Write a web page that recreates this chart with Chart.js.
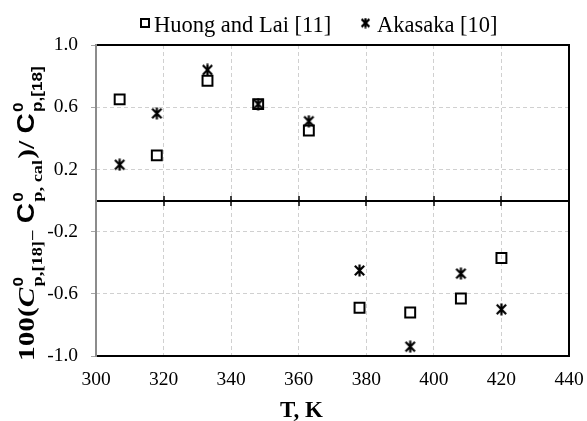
<!DOCTYPE html>
<html><head><meta charset="utf-8">
<script src="https://cdn.jsdelivr.net/npm/chart.js@4"></script>
<style>html,body{margin:0;padding:0;background:#fff;overflow:hidden}</style>
</head><body>
<canvas id="c" width="587" height="421"></canvas>
<script>
// ---- data ----
const temperatures = [307, 318, 333, 348, 363, 378, 393, 408, 420];
const huongLai = [0.65, 0.29, 0.77, 0.62, 0.45, -0.69, -0.72, -0.63, -0.37];
const akasaka = [0.23, 0.56, 0.84, 0.62, 0.51, -0.45, -0.94, -0.47, -0.70];
const seriesNames = ['Huong and Lai [11]', 'Akasaka [10]'];
const xTickValues = [300, 320, 340, 360, 380, 400, 420, 440];
const yTickValues = [-1.0, -0.6, -0.2, 0.2, 0.6, 1.0];
const xTitle = 'T, K';

const SERIF = '"Liberation Serif", "Times New Roman", serif';
const SANS = '"Liberation Sans", Arial, sans-serif';

function makeStar(size, lw) {
  const c = document.createElement('canvas');
  c.width = size; c.height = size;
  const g = c.getContext('2d');
  g.strokeStyle = '#000'; g.lineWidth = lw; g.lineCap = 'butt';
  const m = size / 2, r = size / 2 - 0.5;
  const d = r * 0.78;
  g.beginPath();
  g.moveTo(m - d, m - d); g.lineTo(m + d, m + d);
  g.moveTo(m + d, m - d); g.lineTo(m - d, m + d);
  g.moveTo(m, m - r); g.lineTo(m, m + r);
  g.stroke();
  return c;
}
const starImg = makeStar(13, 2.2);
const starLegend = makeStar(11, 2.2);

const toPts = (ys) => ys.map((y, i) => ({x: temperatures[i], y}));

const framePlugin = {
  id: 'frame',
  beforeDatasetsDraw(chart) {
    const {ctx, chartArea: a, scales: {x, y}} = chart;
    ctx.save();
    const y0 = Math.round(y.getPixelForValue(0));
    ctx.strokeStyle = '#000'; ctx.lineWidth = 2;
    ctx.beginPath(); ctx.moveTo(a.left, y0); ctx.lineTo(a.right, y0); ctx.stroke();
    ctx.lineWidth = 1.5;
    xTickValues.forEach(v => {
      const px = Math.round(x.getPixelForValue(v));
      ctx.beginPath(); ctx.moveTo(px, y0 - 5); ctx.lineTo(px, y0 + 5); ctx.stroke();
    });
    ctx.lineWidth = 2; ctx.strokeStyle = '#000';
    ctx.beginPath();
    ctx.moveTo(a.left, a.top); ctx.lineTo(a.right, a.top); ctx.lineTo(a.right, a.bottom); ctx.lineTo(a.left, a.bottom);
    ctx.stroke();
    ctx.strokeStyle = '#8c8c8c';
    ctx.beginPath(); ctx.moveTo(a.left, a.top - 1); ctx.lineTo(a.left, a.bottom + 1); ctx.stroke();
    ctx.restore();
  },
  afterDraw(chart) {
    const {ctx} = chart;
    ctx.save();
    // legend
    ctx.fillStyle = '#000';
    ctx.font = '22.5px ' + SERIF;
    ctx.textBaseline = 'alphabetic';
    ctx.textAlign = 'left';
    ctx.strokeStyle = '#000'; ctx.lineWidth = 2;
    ctx.strokeRect(141, 19, 8, 8);
    ctx.fillText(seriesNames[0], 154, 31.5);
    ctx.drawImage(starLegend, 360, 17.5);
    ctx.fillText(seriesNames[1], 377, 31.5);
    // x title
    ctx.font = 'bold 23px ' + SERIF;
    ctx.textAlign = 'center';
    ctx.fillText(xTitle, 301.5, 416.5);
    // y title (rotated, with super/subscripts)
    const mainF = 'bold 24px ' + SERIF;
    const italF = 'italic bold 24px ' + SERIF;
    const sansC = 'bold 23px ' + SANS;
    const supF = 'bold 14px ' + SANS;
    const subSerif = 'bold 15px ' + SERIF;
    const subSans = 'bold 14px ' + SANS;
    const segs = [
      {t: '100(', f: mainF},
      {t: 'C', f: italF},
      {sup: '0', sub: 'p,[18]', subF: subSerif},
      {t: '\u2013', f: subSerif, dy: 2},
      {t: ' ', f: mainF},
      {t: 'C', f: sansC},
      {sup: '0', sub: 'p, cal', subF: subSerif},
      {t: ')/ ', f: mainF},
      {t: 'C', f: sansC},
      {sup: '0', sub: 'p,[18]', subF: subSans}
    ];
    const widthOf = (s) => {
      if (s.t !== undefined) { ctx.font = s.f; return ctx.measureText(s.t).width; }
      ctx.font = supF; const w1 = ctx.measureText(s.sup).width;
      ctx.font = s.subF; const w2 = ctx.measureText(s.sub).width;
      return Math.max(w1, w2) + 2;
    };
    const total = segs.reduce((acc, s) => acc + widthOf(s), 0);
    const targetLen = 296;
    ctx.translate(34, 213);
    ctx.rotate(-Math.PI / 2);
    ctx.scale(targetLen / total, 1);
    ctx.textAlign = 'left';
    let cx = -total / 2;
    segs.forEach(s => {
      const w = widthOf(s);
      if (s.t !== undefined) {
        ctx.font = s.f; ctx.fillText(s.t, cx, s.dy || 0);
      } else {
        ctx.font = supF; ctx.fillText(s.sup, cx + 1, -11);
        ctx.font = s.subF; ctx.fillText(s.sub, cx + 1, 7.5);
      }
      cx += w;
    });
    ctx.restore();
  }
};

new Chart(document.getElementById('c'), {
  type: 'scatter',
  data: {
    datasets: [
      {label: seriesNames[0], data: toPts(huongLai), pointStyle: 'rect', pointRadius: 7, pointHoverRadius: 7,
       borderColor: '#000', backgroundColor: 'rgba(0,0,0,0)', borderWidth: 2, showLine: false},
      {label: seriesNames[1], data: toPts(akasaka), pointStyle: starImg, pointRadius: 6,
       borderColor: '#000', backgroundColor: '#000', borderWidth: 2, showLine: false}
    ]
  },
  options: {
    responsive: false, animation: false, devicePixelRatio: 1,
    layout: {padding: {top: 45, right: 18, bottom: 0, left: 0}},
    plugins: {legend: {display: false}, tooltip: {enabled: false}, title: {display: false}},
    scales: {
      x: {
        type: 'linear', min: 300, max: 440,
        afterBuildTicks: (s) => { s.ticks = xTickValues.map(v => ({value: v})); },
        afterFit: (s) => { s.height = 65; s.paddingLeft = 0; s.paddingRight = 0; },
        ticks: {color: '#000', font: {family: SERIF, size: 19.5}, padding: 12, maxRotation: 0, autoSkip: false,
                callback: (v) => String(v)},
        grid: {color: '#d0d0d0', lineWidth: 1, drawTicks: false},
        border: {display: false, dash: [4, 3]}
      },
      y: {
        type: 'linear', min: -1, max: 1,
        afterBuildTicks: (s) => { s.ticks = yTickValues.map(v => ({value: v})); },
        afterFit: (s) => { s.width = 96; s.paddingTop = 0; s.paddingBottom = 0; },
        ticks: {color: '#000', font: {family: SERIF, size: 19.5}, padding: 13,
                callback: (v) => Number(v).toFixed(1)},
        grid: {color: '#d0d0d0', lineWidth: 1, drawTicks: true, tickLength: 5, tickColor: '#a6a6a6'},
        border: {display: false, dash: [4, 3]}
      }
    }
  },
  plugins: [framePlugin]
});
</script>
</body></html>
